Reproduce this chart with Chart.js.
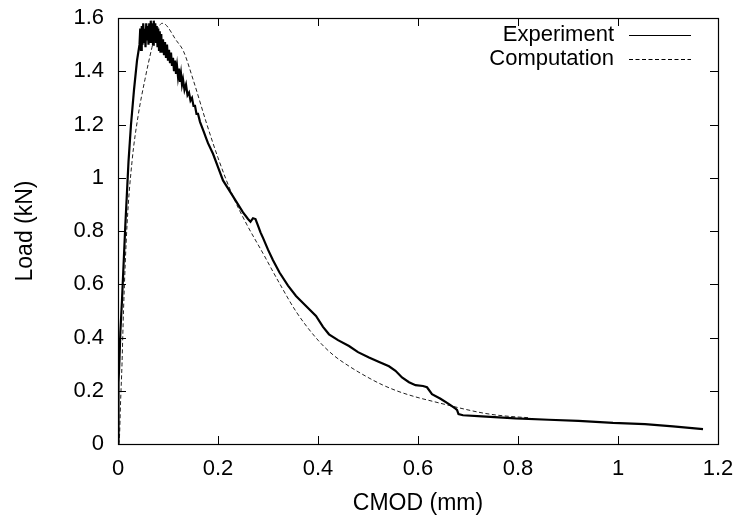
<!DOCTYPE html>
<html>
<head>
<meta charset="utf-8">
<script src="https://cdn.jsdelivr.net/npm/chart.js@4.4.1/dist/chart.umd.min.js"></script>
<style>
html,body{margin:0;padding:0;background:#fff;}
#wrap{width:740px;height:519px;}
</style>
</head>
<body>
<div id="wrap"><canvas id="c" width="740" height="519"></canvas></div>
<script>
// ---- data ----
const seriesNames = ['Experiment', 'Computation'];

const expX = [0,0.001,0.003,0.0047,0.008,0.0146,0.021,0.026,0.032,0.038,
  0.043,0.0445,0.046,0.0475,0.049,0.0505,0.052,0.0535,0.055,0.0565,0.058,0.0595,0.061,0.0625,0.064,0.0655,0.067,0.0685,
  0.07,0.0715,0.073,0.0745,0.076,0.0775,0.079,0.0805,0.082,0.0835,0.085,0.0865,0.088,
  0.09,0.092,0.094,0.096,0.098,0.1,0.102,0.104,0.106,0.108,0.11,0.112,0.114,0.116,0.118,0.12,0.122,0.124,0.126,0.128,0.13,
  0.133,0.136,0.139,0.142,0.145,0.148,0.151,0.154,0.157,0.16,0.164,0.168,0.172,0.176,0.18,
  0.19,0.2,0.21,0.22,0.23,0.24,0.25,0.26,0.265,0.27,0.275,0.28,0.285,0.29,0.3,0.31,0.323,0.34,0.356,0.375,0.396,0.41,0.422,0.44,
  0.462,0.48,0.502,0.52,0.542,0.555,0.568,0.582,0.595,0.61,0.618,0.628,0.645,0.662,0.675,0.678,0.681,0.69,0.728,0.795,0.861,
  0.921,0.99,1.054,1.11,1.17];
const expY = [0,0.23,0.32,0.42,0.54,0.82,1.06,1.2,1.33,1.44,
  1.5,1.56,1.48,1.57,1.5,1.58,1.51,1.56,1.49,1.58,1.52,1.57,1.5,1.58,1.51,1.59,1.52,1.58,
  1.5,1.59,1.53,1.58,1.51,1.57,1.49,1.56,1.48,1.55,1.47,1.54,1.47,
  1.52,1.46,1.51,1.45,1.5,1.44,1.48,1.43,1.47,1.42,1.45,1.4,1.44,1.39,1.42,1.38,1.41,1.36,1.39,1.35,1.37,
  1.33,1.35,1.31,1.32,1.29,1.3,1.27,1.27,1.24,1.24,1.21,1.19,1.17,1.15,1.13,
  1.09,1.04,0.99,0.96,0.93,0.9,0.87,0.845,0.835,0.848,0.845,0.82,0.795,0.774,0.73,0.69,0.644,0.595,0.556,0.52,0.481,0.44,0.412,0.39,
  0.368,0.345,0.325,0.31,0.292,0.275,0.25,0.232,0.221,0.218,0.213,0.187,0.17,0.15,0.133,0.128,0.112,0.108,0.104,0.096,0.091,
  0.087,0.079,0.075,0.066,0.056];

const compX = [0,0.0027,0.005,0.008,0.011,0.018,0.028,0.04,0.054,0.068,0.075,0.081,0.088,0.094,0.1,0.115,0.131,0.15,0.177,0.2,0.23,0.256,0.29,
  0.324,0.357,0.4,0.43,0.464,0.5,0.529,0.56,0.595,0.63,0.662,0.7,0.728,0.76,0.795,0.82];
const compY = [0,0.02,0.15,0.3,0.5,0.82,1.06,1.23,1.37,1.49,1.54,1.565,1.58,1.577,1.565,1.52,1.475,1.37,1.205,1.075,0.93,0.83,0.716,
  0.6,0.495,0.39,0.335,0.29,0.25,0.222,0.198,0.177,0.16,0.145,0.128,0.117,0.108,0.102,0.099];

const xTicks = [0,0.2,0.4,0.6,0.8,1,1.2];
const xTickLabels = ['0','0.2','0.4','0.6','0.8','1','1.2'];
const yTicks = [0,0.2,0.4,0.6,0.8,1,1.2,1.4,1.6];
const yTickLabels = ['0','0.2','0.4','0.6','0.8','1','1.2','1.4','1.6'];
const xTitle = 'CMOD (mm)';
const yTitle = 'Load (kN)';

// ---- build ----
const FONT = '"Liberation Sans", Arial, Helvetica, sans-serif';
const toPts = (xs, ys) => xs.map((x, i) => ({x: x, y: ys[i]}));

const frameTicks = {
  id: 'frameTicks',
  afterDraw(chart) {
    const {ctx, chartArea: a, scales} = chart;
    const L = 8;
    ctx.save();
    ctx.strokeStyle = '#000';
    ctx.lineWidth = 1;
    ctx.beginPath();
    xTicks.forEach(v => {
      const p = Math.round(scales.x.getPixelForValue(v)) + 0.5;
      ctx.moveTo(p, a.bottom); ctx.lineTo(p, a.bottom - L);
      ctx.moveTo(p, a.top); ctx.lineTo(p, a.top + L);
    });
    yTicks.forEach(v => {
      const p = Math.round(scales.y.getPixelForValue(v)) + 0.5;
      ctx.moveTo(a.left, p); ctx.lineTo(a.left + L, p);
      ctx.moveTo(a.right, p); ctx.lineTo(a.right - L, p);
    });
    ctx.stroke();
    ctx.lineWidth = 1.2;
    ctx.strokeRect(a.left + 0.5, a.top + 0.5, a.right - a.left, a.bottom - a.top);
    // legend (gnuplot style: text right-aligned, sample to the right)
    ctx.font = '22px ' + FONT;
    ctx.fillStyle = '#000';
    ctx.textAlign = 'right';
    ctx.textBaseline = 'middle';
    const rows = [35, 59];
    chart.data.datasets.forEach((ds, i) => {
      const y = rows[i];
      ctx.fillText(ds.label, 614, y);
      ctx.beginPath();
      ctx.lineWidth = ds.legendWidth;
      ctx.setLineDash(ds.borderDash || []);
      ctx.moveTo(629, y + 0.5); ctx.lineTo(691, y + 0.5);
      ctx.stroke();
      ctx.setLineDash([]);
    });
    ctx.restore();
  }
};

new Chart(document.getElementById('c'), {
  type: 'scatter',
  data: {
    datasets: [
      {label: seriesNames[0], data: toPts(expX, expY), showLine: true, borderColor: '#000', borderWidth: 2.2,
       pointRadius: 0, tension: 0, legendWidth: 1},
      {label: seriesNames[1], data: toPts(compX, compY), showLine: true, borderColor: '#222', borderWidth: 1,
       borderDash: [4, 2.5], pointRadius: 0, cubicInterpolationMode: 'monotone', legendWidth: 1}
    ]
  },
  options: {
    responsive: false,
    animation: false,
    events: [],
    layout: {padding: {left: 0, right: 22, top: 18, bottom: 0}},
    plugins: {legend: {display: false}, tooltip: {enabled: false}},
    scales: {
      x: {
        type: 'linear', min: 0, max: 1.2,
        afterBuildTicks: s => { s.ticks = xTicks.map(v => ({value: v})); },
        afterFit: s => { s.height = 75; s.paddingLeft = 0; s.paddingRight = 0; },
        grid: {display: false, drawTicks: false},
        border: {display: false},
        ticks: {padding: 12, color: '#000', font: {family: FONT, size: 22}, maxRotation: 0,
                callback: (v, i) => xTickLabels[i]},
        title: {display: true, text: xTitle, color: '#000', font: {family: FONT, size: 23},
                padding: {top: 0, bottom: 2}}
      },
      y: {
        type: 'linear', min: 0, max: 1.6,
        afterBuildTicks: s => { s.ticks = yTicks.map(v => ({value: v})); },
        afterFit: s => { s.width = 118; s.paddingTop = 0; s.paddingBottom = 0; },
        grid: {display: false, drawTicks: false},
        border: {display: false},
        ticks: {padding: 14, color: '#000', font: {family: FONT, size: 22},
                callback: (v, i) => yTickLabels[i]},
        title: {display: true, text: yTitle, color: '#000', font: {family: FONT, size: 23},
                padding: {top: 12, bottom: 0}}
      }
    }
  },
  plugins: [frameTicks]
});
</script>
</body>
</html>
